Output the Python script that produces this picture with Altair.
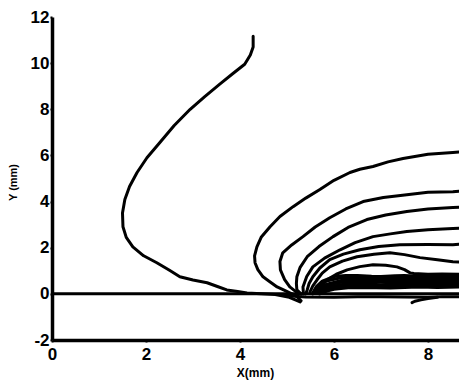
import altair as alt
import pandas as pd

# Contour traces (x in mm, y in mm), each listed in drawing order
c1_x = [4.28, 4.28, 4.22, 4.10, 3.85, 3.57, 3.25, 2.94, 2.60, 2.30, 2.02, 1.81, 1.65, 1.55, 1.50, 1.51, 1.58, 1.72, 1.95, 2.23, 2.50, 2.72, 3.00, 3.30, 3.52, 3.72, 3.95, 4.15, 4.45, 4.75, 5.05, 5.28]
c1_y = [11.17, 10.70, 10.35, 9.95, 9.55, 9.09, 8.55, 8.00, 7.30, 6.57, 5.90, 5.26, 4.65, 4.09, 3.50, 2.91, 2.45, 2.04, 1.65, 1.35, 1.02, 0.74, 0.60, 0.48, 0.32, 0.17, 0.10, 0.04, 0.00, -0.03, -0.15, -0.35]

c2_x = [8.66, 8.53, 8.00, 7.47, 7.15, 6.83, 6.55, 6.34, 6.00, 5.70, 5.40, 5.13, 4.85, 4.64, 4.45, 4.36, 4.31, 4.32, 4.38, 4.49, 4.62, 4.79, 4.95, 5.06, 5.20, 5.30]
c2_y = [6.15, 6.13, 6.05, 5.87, 5.72, 5.52, 5.40, 5.26, 4.92, 4.52, 4.15, 3.78, 3.35, 2.91, 2.45, 2.04, 1.65, 1.35, 1.05, 0.74, 0.55, 0.30, 0.15, 0.04, -0.10, -0.30]

c3_x = [8.66, 8.53, 8.00, 7.55, 7.05, 6.62, 6.25, 5.91, 5.60, 5.34, 5.10, 4.91, 4.85, 4.86, 4.95, 5.06, 5.25]
c3_y = [4.45, 4.43, 4.40, 4.30, 4.18, 4.00, 3.68, 3.30, 2.90, 2.48, 2.12, 1.78, 1.40, 1.04, 0.62, 0.30, 0.00]

c4_x = [8.66, 8.53, 8.00, 7.55, 7.10, 6.70, 6.30, 5.98, 5.68, 5.43, 5.28, 5.21, 5.20, 5.21, 5.30]
c4_y = [3.75, 3.74, 3.68, 3.57, 3.42, 3.22, 2.88, 2.48, 2.05, 1.61, 1.15, 0.74, 0.45, 0.17, 0.00]

c5_x = [8.66, 8.53, 8.00, 7.55, 7.20, 6.83, 6.45, 6.13, 5.80, 5.55, 5.42, 5.34, 5.35]
c5_y = [2.84, 2.83, 2.78, 2.70, 2.60, 2.48, 2.22, 1.91, 1.55, 1.17, 0.75, 0.30, 0.00]

c6_x = [8.66, 8.53, 8.00, 7.40, 6.95, 6.55, 6.20, 5.91, 5.70, 5.55, 5.47, 5.43, 5.40]
c6_y = [2.15, 2.13, 2.14, 2.13, 2.05, 1.91, 1.72, 1.48, 1.12, 0.74, 0.45, 0.17, 0.00]

c7_x = [8.66, 8.53, 8.20, 7.83, 7.50, 7.19, 6.85, 6.49, 6.18, 5.91, 5.75, 5.64, 5.55, 5.49]
c7_y = [1.38, 1.39, 1.48, 1.57, 1.70, 1.78, 1.72, 1.61, 1.42, 1.17, 0.90, 0.61, 0.35, 0.09]

c8_x = [8.66, 8.30, 8.00, 7.70, 7.62, 7.50, 7.34, 7.10, 6.83, 6.55, 6.28, 6.05, 5.85, 5.72, 5.64, 5.55]
c8_y = [0.85, 0.86, 0.85, 0.88, 0.91, 1.05, 1.17, 1.24, 1.26, 1.18, 1.04, 0.85, 0.61, 0.30, 0.04, 0.00]

c9_x = [5.55, 5.62, 5.75, 6.00, 6.25, 6.50, 6.80, 7.00, 7.30, 7.50, 7.80, 8.00, 8.30, 8.66]
c9_y = [0.05, 0.30, 0.55, 0.75, 0.80, 0.80, 0.76, 0.75, 0.78, 0.80, 0.76, 0.75, 0.78, 0.78]

c10_x = [5.60, 5.70, 5.85, 6.20, 6.50, 6.80, 7.10, 7.40, 7.70, 8.00, 8.30, 8.66]
c10_y = [0.03, 0.25, 0.42, 0.60, 0.63, 0.62, 0.58, 0.58, 0.62, 0.62, 0.60, 0.60]

c11_x = [5.65, 5.75, 5.90, 6.20, 6.40, 6.70, 7.00, 7.30, 7.60, 7.90, 8.20, 8.66]
c11_y = [0.02, 0.15, 0.30, 0.42, 0.45, 0.43, 0.40, 0.43, 0.45, 0.43, 0.42, 0.45]

c12_x = [5.70, 5.85, 6.00, 6.30, 6.60, 6.90, 7.20, 7.50, 7.80, 8.20, 8.66]
c12_y = [0.00, 0.12, 0.20, 0.26, 0.28, 0.26, 0.25, 0.28, 0.30, 0.28, 0.30]

c13_x = [5.00, 5.40, 6.00, 6.50, 7.00, 7.50, 8.00, 8.30, 8.66]
c13_y = [-0.08, -0.14, -0.15, -0.12, -0.12, -0.14, -0.15, -0.12, -0.12]

c14_x = [7.66, 7.72, 7.85, 8.00, 8.20]
c14_y = [-0.38, -0.32, -0.26, -0.20, -0.15]

c15_x = [5.58, 5.68, 5.82, 6.10, 6.40, 6.70, 7.00, 7.35, 7.65, 7.95, 8.30, 8.66]
c15_y = [0.04, 0.35, 0.55, 0.68, 0.71, 0.70, 0.67, 0.68, 0.71, 0.69, 0.68, 0.70]

c16_x = [5.62, 5.72, 5.88, 6.15, 6.45, 6.75, 7.05, 7.35, 7.65, 7.95, 8.30, 8.66]
c16_y = [0.02, 0.22, 0.38, 0.50, 0.54, 0.53, 0.50, 0.51, 0.54, 0.53, 0.51, 0.53]

c17_x = [5.68, 5.80, 5.95, 6.25, 6.55, 6.85, 7.15, 7.45, 7.75, 8.05, 8.40, 8.66]
c17_y = [0.01, 0.14, 0.24, 0.34, 0.37, 0.35, 0.33, 0.36, 0.38, 0.36, 0.35, 0.37]

# Plate surface along y = 0
base_x = [0.0, 8.66]
base_y = [0.0, 0.0]

traces = [
    (c1_x, c1_y), (c2_x, c2_y), (c3_x, c3_y), (c4_x, c4_y), (c5_x, c5_y),
    (c6_x, c6_y), (c7_x, c7_y), (c8_x, c8_y), (c9_x, c9_y), (c10_x, c10_y),
    (c11_x, c11_y), (c12_x, c12_y), (c13_x, c13_y), (c14_x, c14_y),
    (c15_x, c15_y), (c16_x, c16_y), (c17_x, c17_y),
    (base_x, base_y),
]

rows = []
for k, (xs, ys) in enumerate(traces):
    for i, (xv, yv) in enumerate(zip(xs, ys)):
        rows.append({"curve": k, "i": i, "x": xv, "y": yv})
df = pd.DataFrame(rows)

FONT = "Liberation Sans"
# plain hyphen for negative tick labels
LABEL_EXPR = "datum.value < 0 ? '-' + abs(datum.value) : '' + datum.value"

lines = alt.Chart(df).mark_line(
    color="black", strokeWidth=3, clip=True, strokeJoin="round", strokeCap="round"
).encode(
    x=alt.X(
        "x:Q",
        scale=alt.Scale(domain=[0, 8.66], nice=False, zero=False),
        axis=alt.Axis(
            values=[0, 2, 4, 6, 8], title="X(mm)", labelExpr=LABEL_EXPR,
            domainWidth=3.5, domainColor="black", tickColor="black",
            tickSize=2, tickWidth=2, labelPadding=4,
            labelFont=FONT, labelFontSize=17, labelFontWeight="bold", labelColor="black",
            titleFont=FONT, titleFontSize=12, titleFontWeight="bold", titleColor="black",
            titleX=203, titleY=32, titleBaseline="middle", titleAlign="center",
            grid=False, labelFlush=False,
        ),
    ),
    y=alt.Y(
        "y:Q",
        scale=alt.Scale(domain=[-2, 12], nice=False, zero=False),
        axis=alt.Axis(
            values=[-2, 0, 2, 4, 6, 8, 10, 12], title="Y (mm)", labelExpr=LABEL_EXPR,
            domainWidth=3.5, domainColor="black", tickColor="black",
            tickSize=2, tickWidth=2, labelPadding=1,
            labelFont=FONT, labelFontSize=17, labelFontWeight="bold", labelColor="black",
            titleFont=FONT, titleFontSize=11, titleFontWeight="bold", titleColor="black",
            titleX=-39, titleY=165, titleAngle=270, titleBaseline="middle", titleAlign="center",
            grid=False, labelFlush=False,
        ),
    ),
    detail="curve:N",
    order="i:Q",
)

chart = lines.properties(
    width=407,
    height=323,
    autosize=alt.AutoSizeParams(type="none"),
    padding={"left": 52, "top": 17, "right": 0, "bottom": 45},
).configure_view(stroke=None)

chart.save("out.html", embed_options={"renderer": "svg", "actions": False})
